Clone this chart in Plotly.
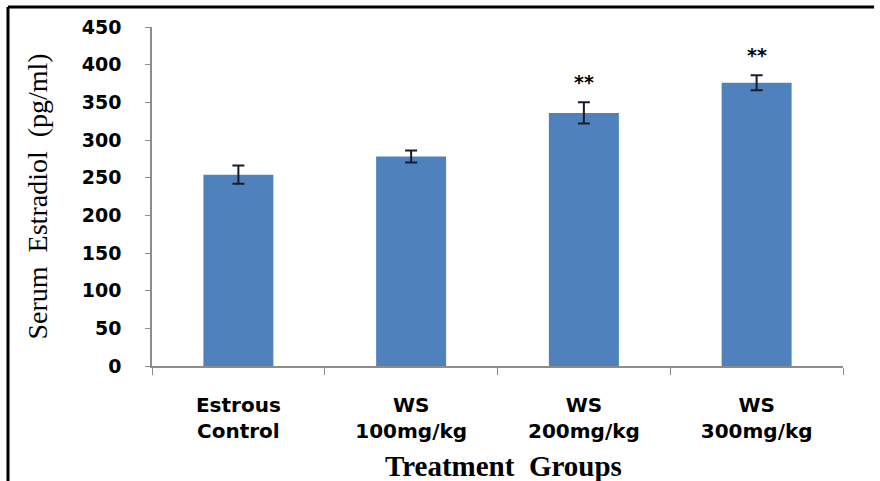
import plotly.graph_objects as go

categories = ["Estrous<br>Control", "WS<br>100mg/kg", "WS<br>200mg/kg", "WS<br>300mg/kg"]
values = [254, 278, 336, 376]
errors = [12, 8, 14, 10]
significance = ["", "", "**", "**"]
y_ticks = [0, 50, 100, 150, 200, 250, 300, 350, 400, 450]

BAR_COLOR = "#4F81BD"
AXIS_COLOR = "#8c8c8c"

fig = go.Figure()
fig.add_trace(go.Bar(
    x=categories,
    y=values,
    marker=dict(color=BAR_COLOR, line=dict(width=0)),
    error_y=dict(type="data", array=errors, visible=True,
                 color="#1a1a2e", thickness=2, width=6),
    width=0.405,
))

for cat, v, e, s in zip(categories, values, errors, significance):
    if s:
        fig.add_annotation(x=cat, y=v + e, text="<b>" + s + "</b>", showarrow=False,
                           yanchor="bottom", yshift=7,
                           font=dict(family="DejaVu Sans", size=19, color="black"))

# axis titles
fig.add_annotation(xref="paper", yref="paper", x=-0.165, y=0.5,
                   text="Serum  Estradiol  (pg/ml)", textangle=-90, showarrow=False,
                   xanchor="center", yanchor="middle",
                   font=dict(family="Liberation Serif", size=28, color="black"))
fig.add_annotation(xref="paper", yref="paper", x=0.509, y=-0.295,
                   text="<b>Treatment  Groups</b>", showarrow=False,
                   xanchor="center", yanchor="middle",
                   font=dict(family="Liberation Serif", size=29, color="black"))

# outer frame (top and left only)
fig.add_shape(type="line", xref="paper", yref="paper", x0=-0.2084, x1=1.045, y0=1.059, y1=1.059,
              line=dict(color="black", width=3))
fig.add_shape(type="line", xref="paper", yref="paper", x0=-0.2084, x1=-0.2084, y0=1.059, y1=-0.36,
              line=dict(color="black", width=3))

fig.update_layout(
    width=880, height=481,
    margin=dict(l=152, r=37, t=27, b=115),
    paper_bgcolor="white", plot_bgcolor="white",
    showlegend=False,
    xaxis=dict(
        type="category",
        range=[-0.5, 3.5],
        showline=True, linecolor=AXIS_COLOR, linewidth=1.5,
        ticks="outside", tickson="boundaries", ticklen=7, tickcolor=AXIS_COLOR,
        showgrid=False, zeroline=False,
        tickfont=dict(family="DejaVu Sans", size=20, color="black", weight="bold"),
        ticklabelstandoff=20,
    ),
    yaxis=dict(
        range=[0, 450],
        tickvals=y_ticks,
        showline=True, linecolor=AXIS_COLOR, linewidth=1.5,
        ticks="outside", ticklen=5, tickcolor=AXIS_COLOR,
        showgrid=False, zeroline=False,
        tickfont=dict(family="DejaVu Sans", size=19, color="black", weight="bold"),
        ticklabelstandoff=20,
    ),
)

fig.write_html("out.html")
